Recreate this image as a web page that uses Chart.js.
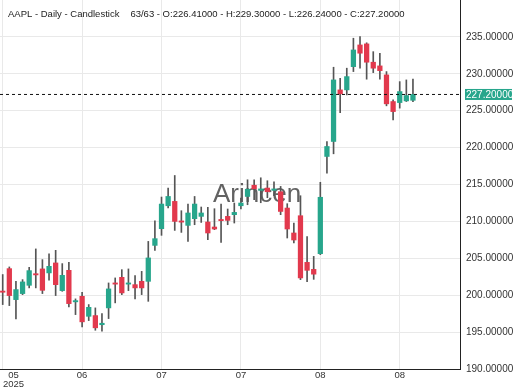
<!DOCTYPE html>
<html><head><meta charset="utf-8">
<script src="https://cdn.jsdelivr.net/npm/chart.js@4.4.1/dist/chart.umd.min.js"></script>
<style>html,body{margin:0;padding:0;background:#fff;}canvas{display:block;}</style>
</head><body>
<canvas id="c" width="520" height="390"></canvas>
<script>
const symbolTitle = 'AAPL - Daily - Candlestick';
const watermarkText = 'Arincen';
const opens = [
  200.5, 203.6, 199.4, 200.22, 201.34, 202.85, 203.56, 203.02, 204.37, 200.62,
  203.37, 199.1, 199.85, 197.14, 197.24, 196.0, 198.28, 201.6, 202.42, 201.5,
  201.43, 201.88, 201.88, 206.75, 209.01, 212.12, 212.71, 210.0, 209.46, 210.37,
  210.68, 209.92, 209.24, 210.2, 210.68, 210.91, 212.12, 213.38, 214.9, 214.2,
  214.52, 214.2, 214.02, 211.81, 208.43, 210.77, 204.45, 203.5, 205.63, 218.8,
  220.83, 227.82, 227.82, 230.97, 233.91, 234.05, 231.57, 231.07, 229.85, 226.24,
  226.1, 226.33, 226.41];
const highs = [
  202.8, 203.83, 201.88, 202.11, 203.78, 206.27, 204.82, 205.59, 206.08, 204.28,
  204.45, 199.5, 200.39, 198.73, 198.28, 197.51, 201.66, 202.34, 203.46, 203.56,
  202.65, 203.23, 207.29, 210.09, 213.3, 214.52, 216.22, 211.45, 212.35, 213.38,
  211.95, 211.89, 211.72, 212.35, 211.68, 212.49, 213.17, 215.64, 215.64, 215.91,
  215.51, 215.37, 214.74, 212.4, 209.78, 213.48, 207.93, 205.26, 215.3, 220.83,
  230.89, 229.4, 230.76, 234.82, 235.03, 234.2, 233.0, 232.79, 230.3, 226.47,
  228.94, 229.17, 229.3];
const lows = [
  198.73, 198.59, 196.79, 200.08, 200.99, 200.99, 200.22, 202.02, 199.95, 200.53,
  198.42, 197.37, 195.71, 196.56, 195.25, 195.11, 196.83, 198.96, 200.08, 200.62,
  199.5, 200.08, 199.17, 206.08, 208.11, 211.81, 208.78, 208.51, 207.29, 209.55,
  209.86, 207.52, 208.88, 207.16, 209.55, 209.78, 211.68, 212.26, 212.94, 212.53,
  213.21, 213.48, 210.91, 207.75, 207.08, 202.11, 201.84, 202.15, 205.5, 216.55,
  219.16, 224.75, 227.14, 230.3, 230.76, 229.27, 230.16, 229.27, 225.66, 223.76,
  225.35, 226.24, 226.24];
const closes = [
  200.4, 199.95, 200.76, 201.8, 203.33, 202.75, 200.66, 203.91, 201.43, 202.69,
  198.86, 199.2, 196.39, 198.36, 195.58, 196.2, 200.85, 201.5, 200.31, 201.6,
  200.99, 200.99, 205.05, 207.66, 212.35, 213.38, 210.0, 209.9, 211.14, 212.35,
  211.14, 208.43, 208.97, 210.1, 210.14, 211.22, 212.49, 214.36, 214.42, 214.4,
  214.02, 214.4, 211.35, 208.97, 207.48, 202.34, 203.37, 202.85, 213.27, 220.15,
  229.17, 227.28, 229.62, 233.23, 232.79, 231.57, 230.76, 230.43, 225.93, 224.88,
  227.59, 227.05, 227.2];
const xTickIndex = [0, 12, 24, 36, 48, 60];
const xTickLabels = [['05', '2025'], ['06'], ['07'], ['07'], ['08'], ['08']];
const yTicks = [190, 195, 200, 205, 210, 215, 220, 225, 230, 235];

const UP = '#27a68c', DOWN = '#e2394d', WICK = '#555555';
const FONT = '"Liberation Sans", Arial, sans-serif';
const X_MIN = -0.41, X_MAX = 69.11;
const n = closes.length;
const last = n - 1;

const bodies = opens.map((o, i) => ({ x: i, y: [o, closes[i]] }));
const wicks = highs.map((h, i) => ({ x: i, y: [lows[i], h] }));
const bodyColors = opens.map((o, i) => closes[i] >= o ? UP : DOWN);

const overlay = {
  id: 'overlay',
  beforeDatasetsDraw(chart) {
    const ctx = chart.ctx;
    ctx.save();
    ctx.font = '26px ' + FONT;
    ctx.fillStyle = 'rgba(70,70,70,0.85)';
    ctx.textAlign = 'left';
    ctx.textBaseline = 'alphabetic';
    ctx.fillText(watermarkText, 213, 202);
    ctx.restore();
  },
  afterDraw(chart) {
    const ctx = chart.ctx;
    const xs = chart.scales.x, ys = chart.scales.y;
    ctx.save();
    // header
    ctx.font = '9.5px ' + FONT;
    ctx.fillStyle = '#222';
    ctx.textAlign = 'left';
    ctx.textBaseline = 'alphabetic';
    ctx.fillText(symbolTitle, 8, 16.5);
    const tw = ctx.measureText(symbolTitle).width;
    const info = `${n}/${n} - O:${opens[last].toFixed(5)} - H:${highs[last].toFixed(5)} - L:${lows[last].toFixed(5)} - C:${closes[last].toFixed(5)}`;
    ctx.fillText(info, 8 + tw + 11, 16.5);
    // x labels
    ctx.font = '9.5px ' + FONT;
    ctx.fillStyle = '#333';
    ctx.textAlign = 'center';
    ctx.textBaseline = 'middle';
    xTickIndex.forEach((idx, k) => {
      const lines = xTickLabels[k];
      let cx = xs.getPixelForValue(idx);
      const w = Math.max(...lines.map(l => ctx.measureText(l).width));
      if (cx - w / 2 < xs.left + 3) cx = xs.left + 3 + w / 2;
      lines.forEach((l, j) => ctx.fillText(l, cx, 375.5 + j * 8.5));
    });
    // price label
    const py = ys.getPixelForValue(closes[last]);
    ctx.fillStyle = UP;
    ctx.fillRect(xs.right + 5, py - 5.5, 47, 11);
    ctx.font = '10px ' + FONT;
    ctx.fillStyle = '#fff';
    ctx.textAlign = 'left';
    ctx.fillText(closes[last].toFixed(5), xs.right + 6, py + 0.5);
    ctx.restore();
  }
};

new Chart(document.getElementById('c'), {
  type: 'bar',
  data: {
    datasets: [
      { type: 'line', data: [{ x: X_MIN, y: closes[last] }, { x: X_MAX, y: closes[last] }],
        borderColor: '#111', borderWidth: 1, borderDash: [3, 3], pointRadius: 0, order: 0 },
      { data: bodies, backgroundColor: bodyColors, barThickness: 4.6, minBarLength: 1.2,
        grouped: false, order: 1 },
      { data: wicks, backgroundColor: WICK, barThickness: 1, grouped: false, order: 2 }
    ]
  },
  options: {
    responsive: false,
    animation: false,
    devicePixelRatio: 1,
    layout: { padding: 0 },
    plugins: { legend: { display: false }, tooltip: { enabled: false } },
    scales: {
      x: {
        type: 'linear', min: X_MIN, max: X_MAX, offset: false,
        grid: { color: '#e9e9e9', offset: false, drawTicks: false },
        border: { display: true, color: '#222', width: 1 },
        ticks: { display: false },
        afterBuildTicks: s => { s.ticks = xTickIndex.map(v => ({ value: v })); },
        afterFit: s => { s.height = 21; s.paddingLeft = 0; s.paddingRight = 0; }
      },
      y: {
        position: 'right', min: 190, max: 240,
        grid: { color: '#e9e9e9', drawTicks: false },
        border: { display: true, color: '#222', width: 1 },
        ticks: { padding: 6, crossAlign: 'near', color: '#333',
          font: { family: FONT, size: 10 },
          callback: v => Number(v).toFixed(5) },
        afterBuildTicks: s => { s.ticks = yTicks.map(v => ({ value: v })); },
        afterFit: s => { s.width = 60; s.paddingTop = 0; s.paddingBottom = 0; }
      }
    }
  },
  plugins: [overlay]
});
</script>
</body></html>
